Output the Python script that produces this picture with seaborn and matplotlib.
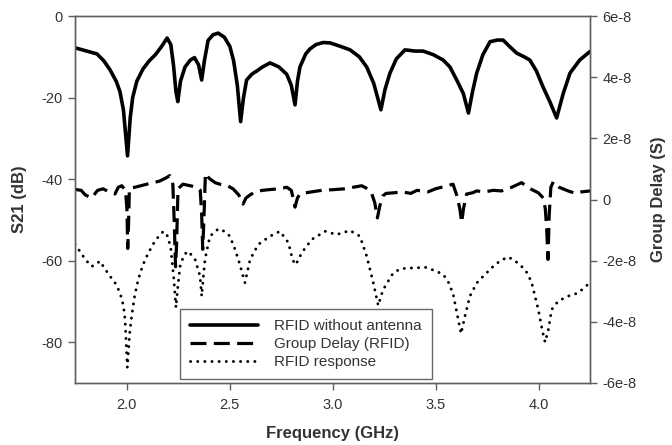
import matplotlib
matplotlib.use("Agg")
import numpy as np
import matplotlib.pyplot as plt
import seaborn as sns
from matplotlib.lines import Line2D
from matplotlib.ticker import FuncFormatter

# --- dati ---
# RFID senza antenna (S21, dB)
s21_freq = [1.75, 1.80, 1.857, 1.89, 1.92, 1.95, 1.968, 1.985, 2.005, 2.018,
            2.03, 2.05, 2.08, 2.11, 2.14, 2.17, 2.197, 2.215, 2.228, 2.240,
            2.249, 2.262, 2.284, 2.31, 2.33, 2.35, 2.365, 2.378, 2.396, 2.42,
            2.445, 2.475, 2.502, 2.52, 2.538, 2.554, 2.568, 2.583, 2.61, 2.632,
            2.66, 2.697, 2.74, 2.778, 2.80, 2.818, 2.83, 2.842, 2.87, 2.89,
            2.92, 2.955, 2.988, 3.036, 3.085, 3.13, 3.166, 3.20, 3.235, 3.255,
            3.279, 3.31, 3.352, 3.40, 3.44, 3.49, 3.537, 3.57, 3.603, 3.635,
            3.66, 3.68, 3.70, 3.73, 3.765, 3.80, 3.828, 3.86, 3.894, 3.93,
            3.958, 3.99, 4.022, 4.055, 4.088, 4.12, 4.153, 4.20, 4.25]
s21_db = [-7.8, -8.5, -9.3, -11.0, -13.2, -16.0, -18.5, -23.0, -34.3, -25.0,
          -20.0, -16.0, -13.0, -11.0, -9.5, -7.5, -5.4, -7.0, -12.0, -18.5,
          -21.0, -16.0, -12.5, -10.8, -10.2, -12.0, -15.7, -11.0, -6.0, -4.6,
          -4.2, -5.2, -7.5, -11.0, -17.0, -25.9, -20.0, -15.7, -14.2, -13.5,
          -12.5, -11.5, -12.5, -14.3, -17.0, -21.8, -16.0, -12.5, -9.3, -8.1,
          -7.0, -6.5, -6.6, -7.4, -8.3, -10.0, -12.5, -16.5, -23.0, -18.0,
          -14.0, -10.5, -8.3, -8.6, -8.6, -9.5, -10.8, -12.5, -15.7, -19.0,
          -23.8, -18.5, -14.0, -9.5, -6.3, -5.9, -5.9, -7.5, -9.1, -10.0,
          -10.8, -13.5, -17.4, -21.0, -25.0, -19.0, -14.0, -10.8, -8.7]

# Group delay RFID (s, asse destro) - valori in unita' di 1e-8
gd_freq = [1.75, 1.78, 1.80, 1.83, 1.86, 1.886, 1.915, 1.944, 1.96, 1.977,
           1.995, 2.002, 2.006, 2.010, 2.014, 2.04, 2.07, 2.098, 2.13, 2.16,
           2.19, 2.21, 2.225, 2.232, 2.238, 2.243, 2.25, 2.274, 2.31, 2.34,
           2.358, 2.365, 2.370, 2.376, 2.383, 2.40, 2.43, 2.454, 2.49, 2.517,
           2.545, 2.566, 2.58, 2.60, 2.624, 2.66, 2.705, 2.74, 2.778, 2.80,
           2.812, 2.818, 2.83, 2.842, 2.87, 2.90, 2.948, 3.00, 3.06, 3.10,
           3.142, 3.17, 3.19, 3.205, 3.218, 3.230, 3.245, 3.26, 3.30, 3.336,
           3.38, 3.41, 3.433, 3.464, 3.50, 3.546, 3.585, 3.605, 3.618, 3.627,
           3.636, 3.651, 3.68, 3.70, 3.74, 3.78, 3.821, 3.87, 3.918, 3.96,
           3.999, 4.023, 4.033, 4.040, 4.046, 4.052, 4.060, 4.072, 4.10, 4.144,
           4.18, 4.21, 4.25]
gd_e8 = [0.33, 0.30, 0.15, 0.05, 0.30, 0.35, 0.25, 0.18, 0.40, 0.45,
         0.30, -0.30, -1.60, -0.80, 0.35, 0.40, 0.45, 0.50, 0.55, 0.60,
         0.70, 0.78, 0.50, -0.80, -2.20, -1.50, 0.35, 0.50, 0.45, 0.40,
         0.30, -0.50, -1.63, -0.60, 0.85, 0.70, 0.55, 0.50, 0.45, 0.35,
         0.15, -0.15, 0.05, 0.15, 0.25, 0.30, 0.33, 0.35, 0.40, 0.30,
         -0.05, -0.25, 0.05, 0.18, 0.22, 0.25, 0.30, 0.32, 0.35, 0.40,
         0.45, 0.35, 0.20, -0.10, -0.60, -0.20, 0.12, 0.20, 0.22, 0.25,
         0.20, 0.30, 0.28, 0.25, 0.35, 0.43, 0.50, 0.10, -0.30, -0.75,
         -0.30, 0.18, 0.22, 0.28, 0.25, 0.30, 0.28, 0.40, 0.55, 0.35,
         0.22, 0.05, -0.30, -1.00, -1.96, -0.50, 0.40, 0.58, 0.40, 0.28,
         0.20, 0.25, 0.28]

# Risposta RFID (dB)
resp_freq = [1.75, 1.775, 1.80, 1.83, 1.85, 1.871, 1.895, 1.92, 1.945, 1.968,
             1.985, 1.993, 2.004, 2.015, 2.025, 2.04, 2.057, 2.08, 2.106, 2.14,
             2.179, 2.20, 2.215, 2.23, 2.24, 2.25, 2.26, 2.28, 2.30, 2.333,
             2.357, 2.365, 2.373, 2.381, 2.405, 2.446, 2.475, 2.502, 2.525, 2.543,
             2.575, 2.60, 2.64, 2.697, 2.745, 2.786, 2.805, 2.818, 2.833, 2.85,
             2.899, 2.964, 3.02, 3.085, 3.133, 3.166, 3.198, 3.222, 3.24, 3.255,
             3.295, 3.33, 3.368, 3.40, 3.449, 3.50, 3.538, 3.565, 3.586, 3.607,
             3.624, 3.643, 3.667, 3.70, 3.732, 3.78, 3.815, 3.853, 3.885, 3.918,
             3.945, 3.967, 3.999, 4.018, 4.032, 4.048, 4.064, 4.096, 4.144, 4.193,
             4.225, 4.25]
resp_db = [-56.0, -57.8, -59.7, -61.4, -61.0, -60.1, -62.0, -63.8, -65.5, -67.8,
           -71.0, -74.4, -86.2, -78.0, -73.6, -68.5, -64.6, -61.0, -58.1, -55.0,
           -52.8, -54.0, -57.0, -64.6, -71.5, -66.0, -61.4, -58.5, -57.7, -59.7,
           -63.8, -68.7, -64.0, -59.7, -54.0, -52.2, -52.8, -54.0, -57.0, -59.7,
           -65.4, -59.7, -56.0, -54.0, -52.8, -55.6, -59.5, -61.0, -60.0, -58.1,
           -54.8, -52.8, -53.6, -52.6, -54.0, -58.9, -65.4, -71.0, -68.0, -66.3,
           -63.0, -62.0, -61.8, -61.8, -61.6, -62.5, -63.4, -65.5, -68.3, -73.6,
           -77.9, -73.6, -68.7, -65.5, -63.8, -61.4, -60.0, -59.1, -60.0, -61.4,
           -63.0, -65.4, -72.0, -77.0, -80.0, -76.9, -72.0, -69.9, -68.7, -67.9,
           -66.5, -65.4]

labels = ["RFID without antenna", "Group Delay (RFID)", "RFID response"]
x_ticks = [2.0, 2.5, 3.0, 3.5, 4.0]
left_ticks = [0, -20, -40, -60, -80]
right_ticks = [6e-8, 4e-8, 2e-8, 0, -2e-8, -4e-8, -6e-8]

sns.set_style("ticks")
plt.rcParams['font.family'] = ['Liberation Sans', 'DejaVu Sans']
plt.rcParams['axes.unicode_minus'] = False

spine_col = '#606060'
text_col = '#333333'

fig = plt.figure(figsize=(6.72, 4.45), dpi=100)
ax = fig.add_axes([75 / 672, 1 - 383 / 445, 515 / 672, 367 / 445])
ax2 = ax.twinx()

solid_style = dict(color='black', lw=2.6, solid_capstyle='round')
dash_style = dict(color='black', lw=2.3, linestyle=(0, (5.0, 2.3)))
dot_style = dict(color='black', lw=2.1, linestyle=(0, (0.05, 2.4)), dash_capstyle='round')

sns.lineplot(x=s21_freq, y=s21_db, ax=ax, estimator=None, sort=False, **solid_style)
sns.lineplot(x=resp_freq, y=resp_db, ax=ax, estimator=None, sort=False, **dot_style)
sns.lineplot(x=gd_freq, y=np.array(gd_e8) * 1e-8, ax=ax2, estimator=None, sort=False, **dash_style)

ax.set_xlim(1.75, 4.25)
ax.set_ylim(-90, 0)
ax2.set_ylim(-6e-8, 6e-8)
ax.set_xticks(x_ticks)
ax.set_xticklabels([f"{t:.1f}" for t in x_ticks])
ax.set_yticks(left_ticks)
ax.set_yticklabels([str(t) for t in left_ticks])
ax2.set_yticks(right_ticks)
ax2.yaxis.set_major_formatter(FuncFormatter(
    lambda v, p: "0" if abs(v) < 1e-12 else f"{v * 1e8:.0f}e-8"))

for a in (ax, ax2):
    for s in a.spines.values():
        s.set_color(spine_col)
        s.set_linewidth(1.0)
    a.tick_params(colors=spine_col, labelcolor=text_col, labelsize=10.5,
                  length=5, width=1.0)
ax.tick_params(axis='x', pad=6)
ax.tick_params(axis='y', pad=4)
ax2.tick_params(axis='y', pad=4)

ax.set_xlabel("Frequency (GHz)", fontsize=12, fontweight='bold', color=text_col, labelpad=10)
ax.set_ylabel("S21 (dB)", fontsize=12, fontweight='bold', color=text_col, labelpad=10)
ax2.set_ylabel("Group Delay (S)", fontsize=12, fontweight='bold', color=text_col, labelpad=10)

handles = [Line2D([0], [0], **solid_style),
           Line2D([0], [0], **dash_style),
           Line2D([0], [0], **dot_style)]
leg = ax.legend(handles, labels, loc='lower left', bbox_to_anchor=(0.204, 0.011),
                frameon=True, fancybox=False, fontsize=11, handlelength=4.45,
                borderpad=0.65, labelspacing=0.25, handletextpad=1.05, borderaxespad=0)
leg.get_frame().set_edgecolor('#444444')
leg.get_frame().set_linewidth(1.0)
for t in leg.get_texts():
    t.set_color(text_col)

fig.savefig("out.png", dpi=100)
